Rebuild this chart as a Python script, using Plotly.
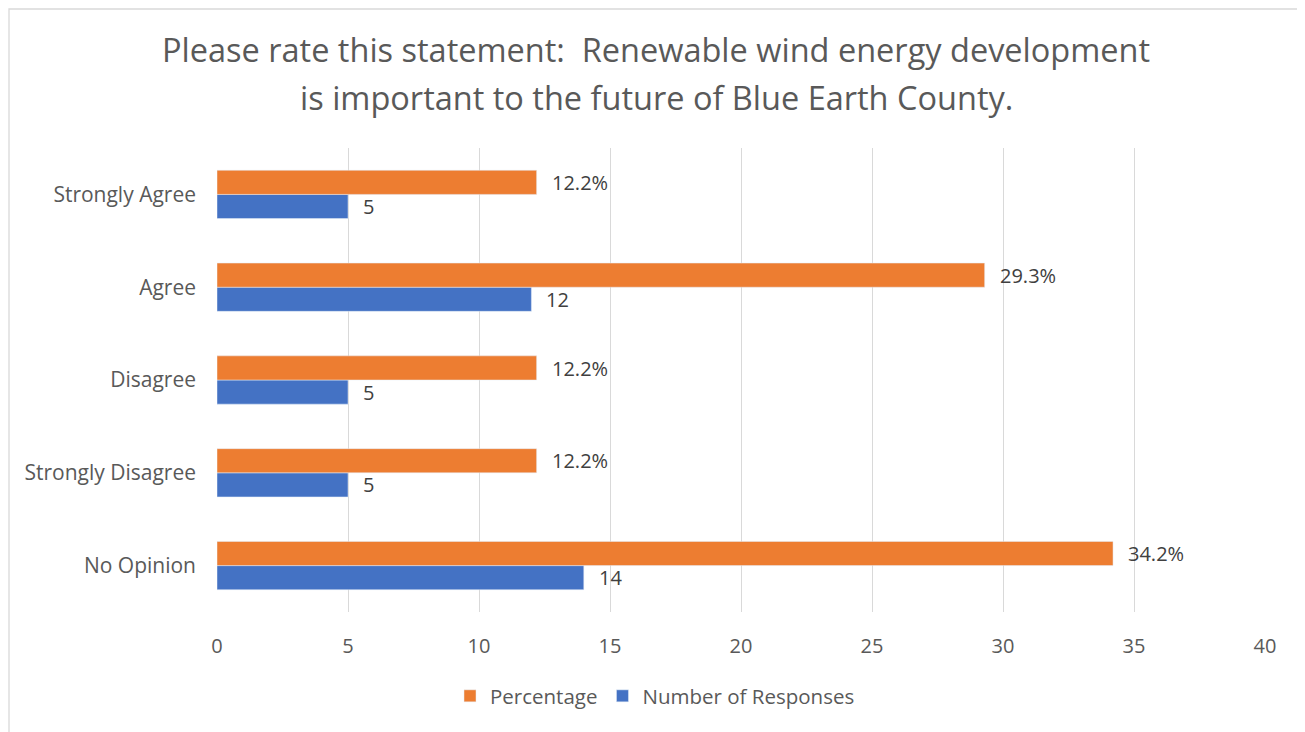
import plotly.graph_objects as go

categories = ["Strongly Agree", "Agree", "Disagree", "Strongly Disagree", "No Opinion"]
percentage = [12.2, 29.3, 12.2, 12.2, 34.2]
responses = [5, 12, 5, 5, 14]
x_ticks = [0, 5, 10, 15, 20, 25, 30, 35, 40]
title_lines = [
    "Please rate this statement:  Renewable wind energy development",
    "is important to the future of Blue Earth County.",
]

ORANGE = "#ED7D31"
BLUE = "#4472C4"
FONT = "Open Sans, Liberation Sans, sans-serif"

fig = go.Figure()
fig.add_trace(go.Bar(
    y=categories, x=responses, orientation="h", name="Number of Responses",
    marker=dict(color=BLUE),
))
fig.add_trace(go.Bar(
    y=categories, x=percentage, orientation="h", name="Percentage",
    marker=dict(color=ORANGE),
))

# data labels anchored to the bar ends through the axes
annotations = []
for cat, v in zip(categories, percentage):
    annotations.append(dict(
        x=v, y=cat, xref="x", yref="y", text=f"{v:.1f}%", showarrow=False,
        xanchor="left", yanchor="middle", xshift=13, yshift=12,
        font=dict(size=20, color="#404040", family=FONT),
    ))
for cat, v in zip(categories, responses):
    annotations.append(dict(
        x=v, y=cat, xref="x", yref="y", text=str(v), showarrow=False,
        xanchor="left", yanchor="middle", xshift=13, yshift=-12,
        font=dict(size=20, color="#404040", family=FONT),
    ))

W, H = 1305, 732
OFF = 8  # page body margin
L, R, T, B = 217 - OFF, W - (1265 - OFF), 148 - OFF, H - (612 - OFF)
pw, ph = W - L - R, H - T - B

def px_x(p):
    return (p - OFF - L) / pw

def px_y(p):
    return (H - B - (p - OFF)) / ph

for line, yc in zip(title_lines, [50, 97]):
    annotations.append(dict(
        x=px_x(656), y=px_y(yc), xref="paper", yref="paper", text=line,
        showarrow=False, xanchor="center", yanchor="middle",
        font=dict(size=32.5, color="#595959", family=FONT),
    ))

fig.update_layout(
    width=W, height=H,
    margin=dict(l=L, r=R, t=T, b=B, autoexpand=False),
    paper_bgcolor="white", plot_bgcolor="white",
    font=dict(family=FONT, color="#595959"),
    barmode="group", bargap=0.48, bargroupgap=0,
    showlegend=True,
    legend=dict(
        orientation="h", traceorder="reversed",
        x=px_x(655), xanchor="center", y=px_y(676), yanchor="top",
        font=dict(size=20.5, color="#595959", family=FONT),
        itemwidth=30,
    ),
    xaxis=dict(
        range=[0, 40], tickvals=x_ticks, ticktext=[str(t) for t in x_ticks],
        showgrid=True, gridcolor="#d9d9d9", gridwidth=1.3,
        zeroline=False, showline=False, ticks="",
        ticklabelstandoff=20, automargin=False,
        tickfont=dict(size=20, color="#595959", family=FONT),
        fixedrange=True,
    ),
    yaxis=dict(
        categoryorder="array", categoryarray=categories[::-1],
        showgrid=False, showline=False, zeroline=False, ticks="",
        ticklabelstandoff=20, automargin=False,
        tickfont=dict(size=21, color="#595959", family=FONT),
    ),
    annotations=annotations,
    shapes=[dict(
        type="rect", xref="paper", yref="paper",
        x0=(1 - L) / pw, x1=(1290 - L) / pw,
        y0=(H - B - (H + 20)) / ph, y1=(H - B - 1) / ph,
        line=dict(color="#d9d9d9", width=1.3), fillcolor="rgba(0,0,0,0)",
        layer="below",
    )],
)

fig.write_html("out.html")
